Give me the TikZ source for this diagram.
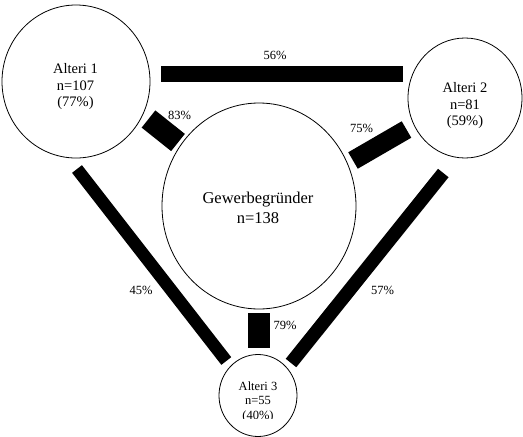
\documentclass[tikz,border=0pt]{standalone}
\usepackage{fontspec}
\setmainfont{Liberation Serif}
\usetikzlibrary{shapes.geometric}
\begin{document}
\begin{tikzpicture}[x=1pt, y=-1pt,
  person/.style={draw, ellipse, inner sep=0pt, line width=0.8pt},
  ptext/.style={align=center, font=\fontsize{14.5}{16.5}\selectfont},
  bar/.style={line cap=butt},
  pct/.style={font=\fontsize{12.5}{14}\selectfont}]
\useasboundingbox (0,0) rectangle (523,437);
% persons
\node[person, minimum width=148, minimum height=153] (a1) at (76,81.5) {};
\node[person, minimum width=114, minimum height=120] (a2) at (465,98) {};
\node[person, minimum width=194, minimum height=206] (g) at (259,206) {};
\node[person, minimum width=78, minimum height=82] (a3) at (258,395.5) {};
\node[ptext] (a1t) at (75.5,87) {Alteri 1\\n=107\\(77\%)};
\node[ptext] (a2t) at (465,106) {Alteri 2\\n=81\\(59\%)};
\node[ptext, font=\fontsize{16.5}{20}\selectfont] (gt) at (258,208) {Gewerbegründer\\n=138};
\begin{scope}
\clip (219,370) rectangle (297,418.3);
\node[ptext, font=\fontsize{12.5}{14.5}\selectfont] (a3t) at (258,401.7) {Alteri 3\\n=55\\(40\%)};
\end{scope}
% bars
\coordinate (b12a) at (161,74);    \coordinate (b12b) at (403,74);
\coordinate (b1ga) at (148.5,119); \coordinate (b1gb) at (178,142.5);
\coordinate (b2ga) at (406.5,129.5); \coordinate (b2gb) at (353,160.5);
\coordinate (b13a) at (77,169);    \coordinate (b13b) at (226.3,361);
\coordinate (b23a) at (443.3,173); \coordinate (b23b) at (291,363);
\coordinate (b3ga) at (259,313);   \coordinate (b3gb) at (259,348);
\draw[bar, line width=16] (b12a) -- (b12b);
\draw[bar, line width=22] (b1ga) -- (b1gb);
\draw[bar, line width=19] (b2ga) -- (b2gb);
\draw[bar, line width=12.5] (b13a) -- (b13b);
\draw[bar, line width=13.5] (b23a) -- (b23b);
\draw[bar, line width=22] (b3ga) -- (b3gb);
% shares
\node[pct] (l12) at (275,55) {56\%};
\node[pct] (l1g) at (179.5,115) {83\%};
\node[pct] (l2g) at (361.5,128) {75\%};
\node[pct] (l13) at (141,290) {45\%};
\node[pct] (l23) at (382.5,290) {57\%};
\node[pct] (l3g) at (285,325) {79\%};
\end{tikzpicture}
\end{document}
